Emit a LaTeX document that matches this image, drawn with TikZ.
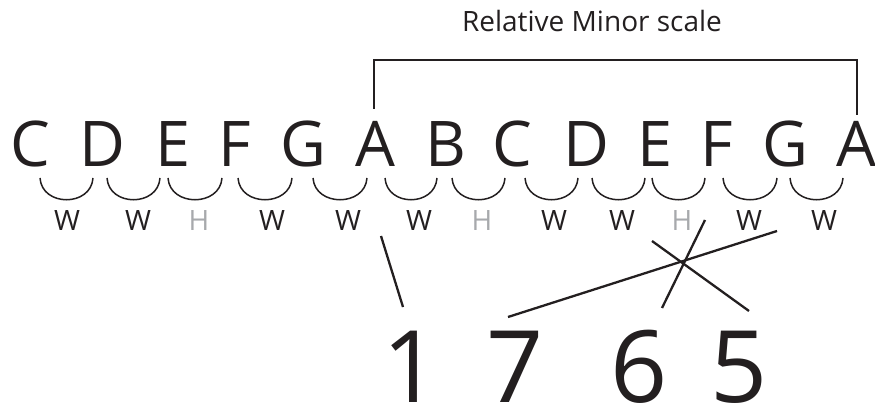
\documentclass[tikz,border=0pt]{standalone}
\usepackage{fontspec}
\setmainfont{Open Sans}
\definecolor{ink}{HTML}{231F20}
\definecolor{half}{HTML}{A7A9AC}
\tikzset{
  note/.style={inner sep=0pt, anchor=base, text=ink, font=\fontsize{63}{63}\selectfont},
  step label/.style={inner sep=0pt, anchor=base, text=ink, font=\fontsize{28}{28}\selectfont},
  halfstep/.style={step label, text=half},
  degree/.style={inner sep=0pt, anchor=base, text depth=0pt, text=ink, font=\fontsize{100}{100}\selectfont},
  title/.style={inner sep=0pt, anchor=base, text=ink, font=\fontsize{28}{28}\selectfont},
  tie/.style={draw=ink, line width=1.5pt},
  link/.style={draw=ink, line width=2.3pt},
  bracket/.style={draw=ink, line width=2pt}
}
\begin{document}
\begin{tikzpicture}[x=1pt,y=-1pt]
\useasboundingbox (0,0) rectangle (875,406);
% notes
\foreach \n/\x/\t in {1/30/C,2/102/D,3/173/E,4/235/F,5/303/G,6/375/A,7/446/B,8/512/C,9/586/D,10/655/E,11/717/F,12/785/G,13/856/A}
  \node[note] (n\n) at (\x,167) {\t};
% step labels
\foreach \n/\x in {1/67,2/138,4/272,5/348,6/419,8/554,9/622,11/749,12/824}
  \node[step label] (s\n) at (\x,230) {W};
\foreach \n/\x in {3/199,7/482,10/682}
  \node[halfstep] (s\n) at (\x,230) {H};
% ties
\foreach \a/\b [count=\i] in {40/93,107/160,168/222,238/292,313/367,385/437,452/505,525/578,592/645,652/705,723/777,790/843}{
  \coordinate (ta\i) at (\a,178);
  \coordinate (tb\i) at (\b,178);
  \draw[tie] (ta\i) .. controls ([xshift=2pt]ta\i |- 0,207) and ([xshift=-2pt]tb\i |- 0,207) .. (tb\i);
}
% title and bracket
\node[title] (title) at (592,32) {Relative Minor scale};
\coordinate (bl) at (374,109);
\coordinate (br) at (857,115);
\draw[bracket] (bl) -- (374,60) -- (857,60) -- (br);
% degrees
\node[degree] (d1) at (411,402) {1};
\node[degree] (d7) at (515,402) {7};
\node[degree] (d6) at (639,402) {6};
\node[degree] (d5) at (739,402) {5};
% links
\coordinate (a1) at (381,236); \coordinate (b1) at (403,307);
\coordinate (a7) at (777,231); \coordinate (b7) at (508,317);
\coordinate (a6) at (705,220); \coordinate (b6) at (662,308);
\coordinate (a5) at (652,241); \coordinate (b5) at (749,311);
\draw[link] (a1) -- (b1);
\draw[link] (a7) -- (b7);
\draw[link] (a6) -- (b6);
\draw[link] (a5) -- (b5);
\end{tikzpicture}
\end{document}
